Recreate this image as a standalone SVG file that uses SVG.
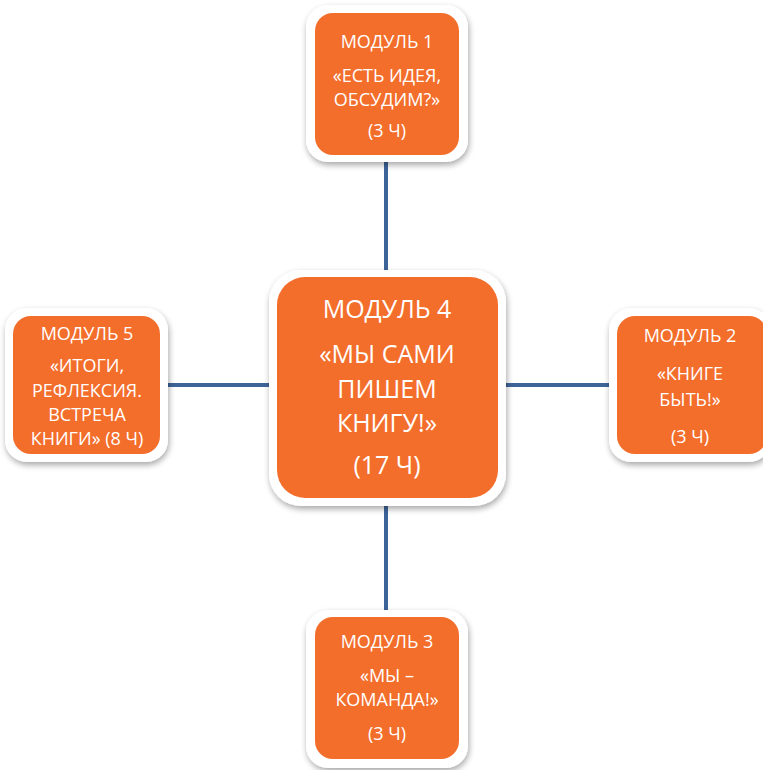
<svg xmlns="http://www.w3.org/2000/svg" width="763" height="770" viewBox="0 0 763 770">
<defs>
<filter id="sh" x="-20%" y="-20%" width="140%" height="140%">
<feGaussianBlur in="SourceAlpha" stdDeviation="3"/>
<feOffset dx="1" dy="3" result="b"/>
<feComponentTransfer><feFuncA type="linear" slope="0.35"/></feComponentTransfer>
<feMerge><feMergeNode/><feMergeNode in="SourceGraphic"/></feMerge>
</filter>
</defs>
<style>
.frame{fill:#ffffff;filter:url(#sh)}
.box{fill:#f36d2b}
.t{font-family:"Open Sans","Noto Sans","DejaVu Sans",sans-serif;fill:#ffffff;text-anchor:middle;font-size:18px}
.big{font-size:25px}
.con{stroke:#3d6499;stroke-width:4;fill:none}
</style>
<rect width="763" height="770" fill="#ffffff"/>
<g id="connectors">
<line class="con" x1="386" y1="160" x2="386" y2="275"/>
<line class="con" x1="386" y1="500" x2="386" y2="610"/>
<line class="con" x1="165" y1="385" x2="273" y2="385"/>
<line class="con" x1="500" y1="385" x2="610" y2="385"/>
</g>
<g id="module1">
<rect class="frame" x="306" y="5" width="162" height="157" rx="22"/>
<rect class="box" x="315" y="13" width="144" height="142" rx="18"/>
<text class="t" x="387" y="48">МОДУЛЬ 1</text>
<text class="t" x="387" y="82">«ЕСТЬ ИДЕЯ,</text>
<text class="t" x="387" y="106">ОБСУДИМ?»</text>
<text class="t" x="387" y="137">(3 Ч)</text>
</g>
<g id="module4">
<rect class="frame" x="269" y="270" width="237" height="236" rx="32"/>
<rect class="box" x="277" y="277" width="221" height="221" rx="28"/>
<text class="t big" x="387" y="318">МОДУЛЬ 4</text>
<text class="t big" x="387" y="363">«МЫ САМИ</text>
<text class="t big" x="387" y="398">ПИШЕМ</text>
<text class="t big" x="387" y="432">КНИГУ!»</text>
<text class="t big" x="387" y="474">(17 Ч)</text>
</g>
<g id="module5">
<rect class="frame" x="5" y="308" width="163" height="154" rx="22"/>
<rect class="box" x="13" y="316" width="147" height="138" rx="18"/>
<text class="t" x="87" y="340">МОДУЛЬ 5</text>
<text class="t" x="87" y="372">«ИТОГИ,</text>
<text class="t" x="87" y="397">РЕФЛЕКСИЯ.</text>
<text class="t" x="87" y="421">ВСТРЕЧА</text>
<text class="t" x="87" y="445">КНИГИ» (8 Ч)</text>
</g>
<g id="module2">
<rect class="frame" x="609" y="308" width="162" height="154" rx="22"/>
<rect class="box" x="617" y="316" width="150" height="138" rx="18"/>
<text class="t" x="690" y="342">МОДУЛЬ 2</text>
<text class="t" x="690" y="380">«КНИГЕ</text>
<text class="t" x="690" y="406">БЫТЬ!»</text>
<text class="t" x="690" y="443">(3 Ч)</text>
</g>
<g id="module3">
<rect class="frame" x="306" y="610" width="162" height="158" rx="22"/>
<rect class="box" x="315" y="617" width="144" height="142" rx="18"/>
<text class="t" x="387" y="648">МОДУЛЬ 3</text>
<text class="t" x="387" y="682">«МЫ –</text>
<text class="t" x="387" y="706">КОМАНДА!»</text>
<text class="t" x="387" y="740">(3 Ч)</text>
</g>
</svg>
